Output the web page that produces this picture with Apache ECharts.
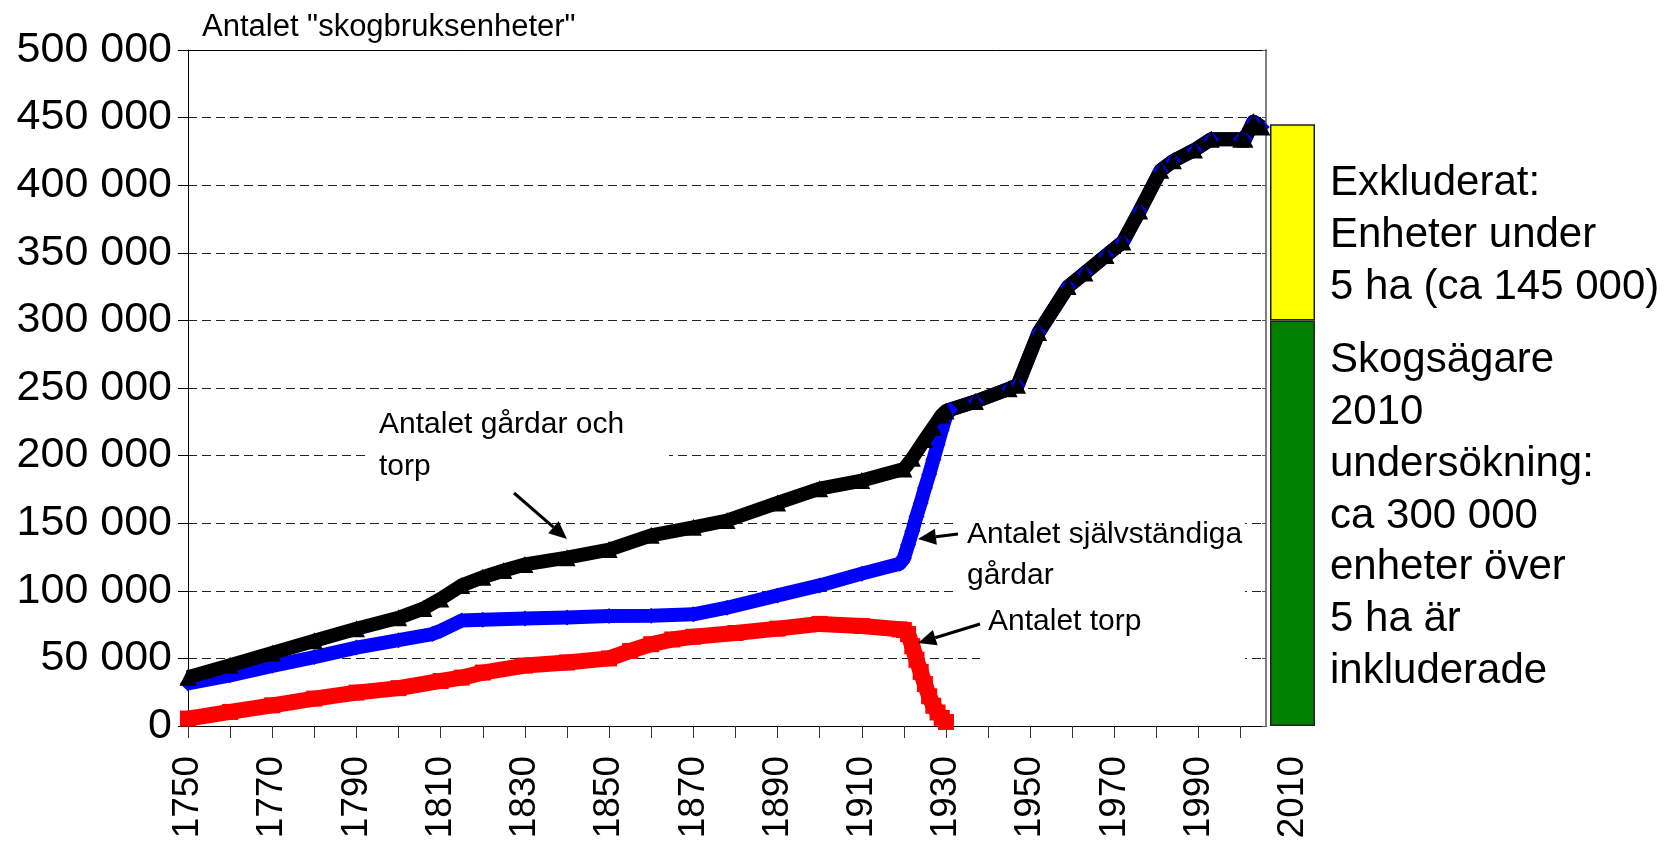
<!DOCTYPE html>
<html>
<head>
<meta charset="utf-8">
<script src="https://cdn.jsdelivr.net/npm/echarts@6/dist/echarts.min.js"></script>
<style>
html,body{margin:0;padding:0;background:#fff}
#chart{width:1666px;height:843px}
</style>
</head>
<body>
<div id="chart"></div>
<script>
// Antalet gårdar och torp (svart)
const farmsAndTorp = [
  [1750,36000],[1760,45000],[1770,54000],[1780,63000],[1790,72000],[1800,80000],
  [1806,87000],[1810,94000],[1815,104000],[1820,110000],[1825,115000],[1830,119500],
  [1840,124500],[1850,130500],[1860,141000],[1870,147000],[1878,152000],[1890,165000],
  [1900,175500],[1910,181500],[1920,190000],[1922,198000],[1925,212000],[1927,221000],
  [1929,230000],[1930,233000],[1937,240000],[1945,249500],[1947,252000],[1952,291000],
  [1959,325000],[1963,335000],[1968,348000],[1972,358000],[1976,381000],[1981,411000],
  [1984,418000],[1989,426000],[1993,434000],[2000,434000],[2001,434000],[2003,447000],
  [2005,443000]
];
// Antalet självständiga gårdar (blå), efter 1930 samma som ovan
const selfFarms = [
  [1750,31500],[1760,37500],[1770,44500],[1780,51000],[1790,58000],[1800,63500],
  [1808,68000],[1810,70500],[1815,78000],[1820,78500],[1830,79500],[1840,80300],
  [1850,81300],[1860,81500],[1870,82600],[1878,87500],[1890,96600],[1900,104000],
  [1910,112700],[1919,120000],[1920,124000],[1921,134000],[1922,144000],[1923,155000],
  [1924,165000],[1925,176000],[1926,186000],[1927,197000],[1928,208000],[1929,219000],
  [1930,229000],[1931,234000]
];
// Antalet torp (röd)
const torp = [
  [1750,5500],[1760,10400],[1770,15300],[1780,20300],[1790,24700],[1800,28000],
  [1810,33300],[1815,35800],[1820,39500],[1830,44700],[1840,47000],[1850,50000],
  [1855,55500],[1860,60500],[1865,64000],[1870,66000],[1880,68800],[1890,72000],
  [1900,75500],[1910,74000],[1919,71500],[1920,71000],[1921,68000],[1922,59000],
  [1923,49000],[1924,40000],[1925,31000],[1926,22000],[1927,15000],[1928,10000],
  [1929,6000],[1930,3000]
];
const tickYears = [1750,1760,1770,1780,1790,1800,1810,1820,1830,1840,1850,1860,1870,
  1880,1890,1900,1910,1920,1930,1940,1950,1960,1970,1980,1990,2000];
const labelYears = [1750,1770,1790,1810,1830,1850,1870,1890,1910,1930,1950,1970,1990];
const barYear = ['2010'];
const over5ha = [300000];
const under5ha = [145000];

const FONT = 'Liberation Sans, Arial, sans-serif';
const selfFarmsAll = selfFarms.concat(farmsAndTorp.filter(d => d[0] > 1931));

function arrow(x1, y1, x2, y2) {
  const a = Math.atan2(y2 - y1, x2 - x1), L = 18, W = 8;
  const bx = x2 - L * Math.cos(a), by = y2 - L * Math.sin(a);
  return [
    {type: 'line', z: 50, shape: {x1: x1, y1: y1, x2: bx, y2: by},
     style: {stroke: '#000', lineWidth: 3}},
    {type: 'polygon', z: 50,
     shape: {points: [[x2, y2], [bx + W * Math.sin(a), by - W * Math.cos(a)], [bx - W * Math.sin(a), by + W * Math.cos(a)]]},
     style: {fill: '#000'}}
  ];
}
function txt(x, y, text, size, lh) {
  return {type: 'text', z: 50, left: x, top: y,
    style: {text: text, font: size + 'px ' + FONT, fill: '#000', lineHeight: lh}};
}
function box(x, y, w, h) {
  return {type: 'rect', z: 1, shape: {x: x, y: y, width: w, height: h}, style: {fill: '#fff'}};
}

const chart = echarts.init(document.getElementById('chart'));
chart.setOption({
  animation: false,
  backgroundColor: '#fff',
  grid: [
    {left: 188, top: 50, width: 1078, height: 676},
    {left: 1266, top: 50, width: 53, height: 676}
  ],
  xAxis: [
    {type: 'value', gridIndex: 0, min: 1750, max: 2006, interval: 10,
     axisLine: {lineStyle: {color: '#000', width: 1}},
     axisTick: {length: 12, customValues: tickYears, lineStyle: {color: '#333'}},
     axisLabel: {customValues: labelYears, rotate: 90, margin: 30, fontSize: 37,
       fontFamily: FONT, color: '#000', formatter: v => String(v)},
     splitLine: {show: false}},
    {type: 'value', gridIndex: 0, position: 'top', min: 1750, max: 2006,
     axisLine: {lineStyle: {color: '#000', width: 1}},
     axisTick: {show: false}, axisLabel: {show: false}, splitLine: {show: false}},
    {type: 'category', gridIndex: 1, data: barYear,
     axisLine: {show: false}, axisTick: {show: false},
     axisLabel: {rotate: 90, margin: 30, fontSize: 37, fontFamily: FONT, color: '#000'}}
  ],
  yAxis: [
    {type: 'value', gridIndex: 0, min: 0, max: 500000, interval: 50000,
     axisLine: {show: true, lineStyle: {color: '#000', width: 1}},
     axisTick: {show: true, length: 10, lineStyle: {color: '#000'}},
     axisLabel: {margin: 16, fontSize: 43, fontFamily: FONT, color: '#000',
       formatter: v => v === 0 ? '0' : (v / 1000) + ' 000'},
     splitLine: {lineStyle: {color: '#222', type: [9, 5], width: 1}}},
    {type: 'value', gridIndex: 1, min: 0, max: 500000, interval: 50000,
     axisLine: {show: true, lineStyle: {color: '#808080', width: 2}},
     axisTick: {show: true, length: 4, lineStyle: {color: '#555'}},
     axisLabel: {show: false}, splitLine: {show: false}}
  ],
  series: [
    {name: 'Antalet torp', type: 'line', xAxisIndex: 0, yAxisIndex: 0, data: torp,
     clip: false, symbol: 'rect', symbolSize: 16, color: '#ff0000',
     lineStyle: {width: 16, color: '#ff0000', join: 'round'}, itemStyle: {color: '#ff0000'}},
    {name: 'Antalet självständiga gårdar', type: 'line', xAxisIndex: 0, yAxisIndex: 0, data: selfFarmsAll,
     clip: false, symbol: 'diamond', symbolSize: 16, color: '#0000ff',
     lineStyle: {width: 14, color: '#0000ff', join: 'round'}, itemStyle: {color: '#0000ff'}},
    {name: 'Antalet gårdar och torp', type: 'line', xAxisIndex: 0, yAxisIndex: 0, data: farmsAndTorp,
     clip: false, symbol: 'triangle', symbolSize: 17, color: '#000',
     lineStyle: {width: 14, color: '#000', join: 'round'}, itemStyle: {color: '#000'}},
    {name: 'Över 5 ha', type: 'bar', xAxisIndex: 2, yAxisIndex: 1, stack: 'ägare', data: over5ha,
     barWidth: 45, itemStyle: {color: '#008000', borderColor: '#222', borderWidth: 1.5}},
    {name: 'Under 5 ha', type: 'bar', xAxisIndex: 2, yAxisIndex: 1, stack: 'ägare', data: under5ha,
     barWidth: 45, itemStyle: {color: '#ffff00', borderColor: '#222', borderWidth: 1.5}}
  ],
  graphic: [
    box(367, 398, 302, 88),
    box(958, 512, 287, 88),
    box(980, 600, 265, 64),
    txt(202, 9, 'Antalet "skogbruksenheter"', 31, 36),
    txt(379, 404, 'Antalet gårdar och\ntorp', 30, 42),
    txt(967, 514, 'Antalet självständiga\ngårdar', 30, 41),
    txt(988, 602, 'Antalet torp', 30, 40),
    txt(1330, 158, 'Exkluderat:\nEnheter under\n5 ha (ca 145 000)', 42, 51.6),
    txt(1330, 335, 'Skogsägare\n2010\nundersökning:\nca 300 000\nenheter över\n5 ha är\ninkluderade', 42, 51.7)
  ].concat(arrow(514, 493, 567, 539), arrow(958, 534, 918, 539), arrow(980, 624, 918, 643))
});
</script>
</body>
</html>
